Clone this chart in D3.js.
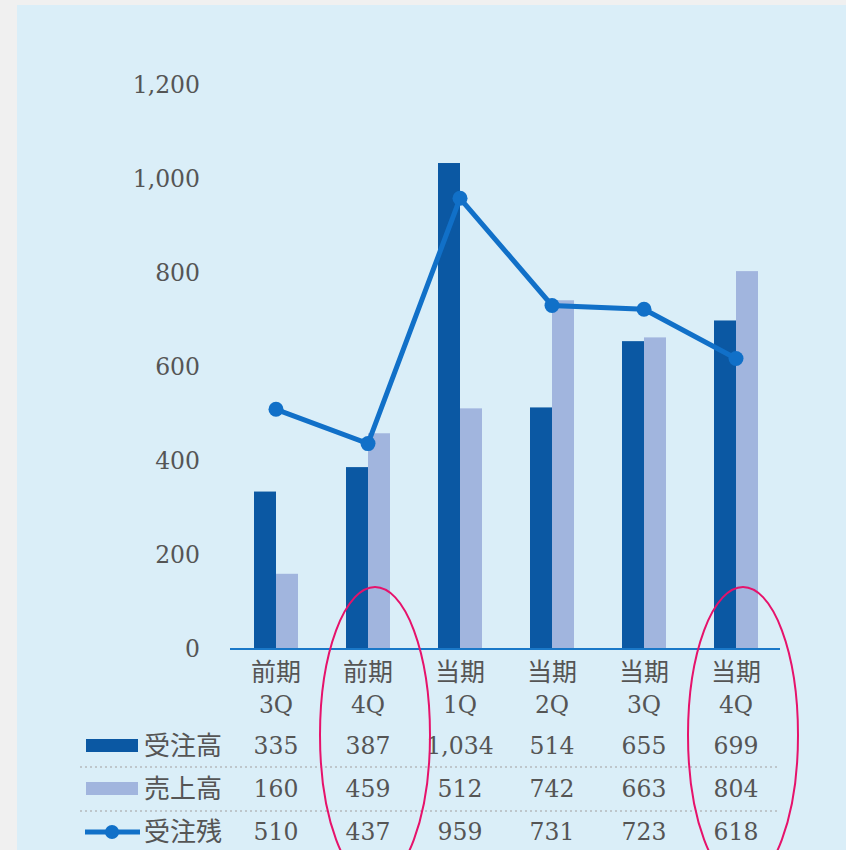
<!DOCTYPE html>
<html lang="ja">
<head>
<meta charset="UTF-8">
<title>受注高・売上高・受注残</title>
<script src="https://d3js.org/d3.v7.min.js"></script>
<style>
  body { margin: 0; background: #f0f0f0; }
  svg { display: block; }
  .num { font-family: "DejaVu Serif", serif; fill: #555; }
  .jp { font-family: "Noto Sans CJK JP", sans-serif; fill: #555; }
</style>
</head>
<body>
<div id="chart"></div>
<script>
  // data
  let periods = ['前期', '前期', '当期', '当期', '当期', '当期'];
  let quarters = ['3Q', '4Q', '1Q', '2Q', '3Q', '4Q'];
  let orders = [335, 387, 1034, 514, 655, 699];      // 受注高
  let sales = [160, 459, 512, 742, 663, 804];        // 売上高
  let backlog = [510, 437, 959, 731, 723, 618];      // 受注残
  let yTicks = [0, 200, 400, 600, 800, 1000, 1200];
  let highlighted = [1, 5];

  let keys = quarters.map((q, i) => periods[i] + q);

  let svg = d3.select('#chart').append('svg')
      .attr('width', 846).attr('height', 850);

  svg.append('rect').attr('x', 0).attr('y', 0).attr('width', 846).attr('height', 850).attr('fill', '#f0f0f0');
  svg.append('rect').attr('x', 17).attr('y', 5).attr('width', 829).attr('height', 845).attr('fill', '#daeef8');

  let x = d3.scaleBand().domain(keys).range([230, 782]).padding(0);
  let y = d3.scaleLinear().domain([0, 1200]).range([649, 85]);
  let cx = i => x(keys[i]) + x.bandwidth() / 2;
  let barW = 22;
  let fmt = d3.format(',');

  // y tick labels
  svg.append('g').selectAll('text')
    .data(yTicks).join('text')
      .attr('class', 'num')
      .attr('x', 200).attr('y', d => y(d))
      .attr('dy', '0.35em')
      .attr('text-anchor', 'end')
      .style('font-size', '23.5px')
      .text(d => fmt(d));

  // bars
  svg.append('g').selectAll('rect')
    .data(orders).join('rect')
      .attr('x', (d, i) => cx(i) - barW)
      .attr('y', d => y(d))
      .attr('width', barW)
      .attr('height', d => y(0) - y(d))
      .attr('fill', '#0b58a3');

  svg.append('g').selectAll('rect')
    .data(sales).join('rect')
      .attr('x', (d, i) => cx(i))
      .attr('y', d => y(d))
      .attr('width', barW)
      .attr('height', d => y(0) - y(d))
      .attr('fill', '#a1b5de');

  // baseline
  svg.append('line')
    .attr('x1', 230).attr('x2', 780)
    .attr('y1', y(0)).attr('y2', y(0))
    .attr('stroke', '#1a78c8').attr('stroke-width', 2);

  // backlog line
  let line = d3.line().x((d, i) => cx(i)).y(d => y(d));
  svg.append('path')
    .datum(backlog)
    .attr('d', line)
    .attr('fill', 'none')
    .attr('stroke', '#1170c8')
    .attr('stroke-width', 5);

  svg.append('g').selectAll('circle')
    .data(backlog).join('circle')
      .attr('cx', (d, i) => cx(i))
      .attr('cy', d => y(d))
      .attr('r', 7.5)
      .attr('fill', '#1170c8');

  // category labels
  let cat = svg.append('g');
  cat.selectAll('.p')
    .data(periods).join('text')
      .attr('class', 'jp')
      .attr('x', (d, i) => cx(i)).attr('y', 672)
      .attr('dy', '0.35em')
      .attr('text-anchor', 'middle')
      .style('font-size', '25px')
      .text(d => d);
  cat.selectAll('.q')
    .data(quarters).join('text')
      .attr('class', 'num')
      .attr('x', (d, i) => cx(i)).attr('y', 705)
      .attr('dy', '0.35em')
      .attr('text-anchor', 'middle')
      .style('font-size', '23.5px')
      .text(d => d);

  // data table
  let rows = [
    {name: '受注高', values: orders, y: 746, kind: 'bar', color: '#0b58a3'},
    {name: '売上高', values: sales, y: 789, kind: 'bar', color: '#a1b5de'},
    {name: '受注残', values: backlog, y: 832, kind: 'line', color: '#1170c8'}
  ];

  [767, 811].forEach(yy => {
    svg.append('line')
      .attr('x1', 80).attr('x2', 778)
      .attr('y1', yy).attr('y2', yy)
      .attr('stroke', '#b5b9bc')
      .attr('stroke-width', 1.5)
      .attr('stroke-dasharray', '2,3');
  });

  rows.forEach(r => {
    let g = svg.append('g');
    if (r.kind === 'bar') {
      g.append('rect')
        .attr('x', 86).attr('y', r.y - 7)
        .attr('width', 52).attr('height', 13)
        .attr('fill', r.color);
    } else {
      g.append('line')
        .attr('x1', 85).attr('x2', 140)
        .attr('y1', r.y).attr('y2', r.y)
        .attr('stroke', r.color).attr('stroke-width', 5);
      g.append('circle')
        .attr('cx', 112).attr('cy', r.y).attr('r', 7)
        .attr('fill', r.color);
    }
    g.append('text')
      .attr('class', 'jp')
      .attr('x', 144).attr('y', r.y)
      .attr('dy', '0.35em')
      .style('font-size', '26px')
      .text(r.name);
    g.selectAll('.v')
      .data(r.values).join('text')
        .attr('class', 'num')
        .attr('x', (d, i) => cx(i)).attr('y', r.y)
        .attr('dy', '0.35em')
        .attr('text-anchor', 'middle')
        .style('font-size', '23.5px')
        .text(d => fmt(d));
  });

  // highlight ellipses
  svg.append('g').selectAll('ellipse')
    .data(highlighted).join('ellipse')
      .attr('cx', i => cx(i) + 7)
      .attr('cy', 735)
      .attr('rx', 55)
      .attr('ry', 148)
      .attr('fill', 'none')
      .attr('stroke', '#e6126b')
      .attr('stroke-width', 2);
</script>
</body>
</html>
